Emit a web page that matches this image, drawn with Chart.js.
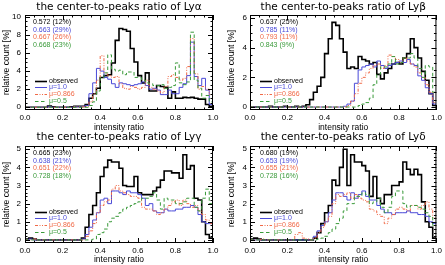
<!DOCTYPE html>
<html>
<head>
<meta charset="utf-8">
<script src="https://cdn.jsdelivr.net/npm/chart.js@4.4.1/dist/chart.umd.min.js"></script>
<style>
    html, body { margin: 0; padding: 0; background: #fff; }
    #wrap { position: relative; width: 445px; height: 265px; overflow: hidden; }
    canvas { position: absolute; }
</style>
</head>
<body>
<div id="wrap">
    <canvas id="lya" width="222" height="133" style="left:0;top:0"></canvas>
    <canvas id="lyb" width="223" height="133" style="left:222px;top:0"></canvas>
    <canvas id="lyg" width="222" height="135" style="left:0;top:130px"></canvas>
    <canvas id="lyd" width="223" height="135" style="left:222px;top:130px"></canvas>
</div>
<script>
// Histogram bins: 50 bins of width 0.02 between 0 and 1 (left edges)
const binLeft = Array.from({ length: 50 }, (_, i) => Math.round(i * 2) / 100);

const seriesLabels = ['observed', 'μ=1.0', 'μ=0.866', 'μ=0.5'];

// Ly alpha
const lyaObserved = [0,0,0,0,0,0,0.15,0.05,0,0,0,0,0.05,0.1,0.1,0.1,0.3,1.0,1.5,2.1,3.3,3.5,3.6,4.9,7.4,8.7,8.6,8.4,6.5,5.0,3.5,2.7,3.8,1.8,1.8,2.4,2.3,2.2,1.0,1.7,1.0,1.0,1.1,1.05,1.1,1.0,0.9,0.9,0.3,0.1];
const lyaMu10 = [0,0,0,0,0,0,0.05,0,0,0,0,0,0,0.05,0.05,0.1,0.2,1.5,2.7,4.3,4.0,3.3,3.1,2.6,2.2,2.7,2.6,2.5,2.4,2.5,2.6,2.8,2.4,2.0,2.1,1.9,1.4,1.4,1.9,1.5,1.5,2.2,2.6,3.5,7.2,3.4,2.4,3.2,1.9,0.3];
const lyaMu0866 = [0,0,0,0,0,0,0,0,0,0,0,0,0,0.05,0.05,0.05,0.1,0.6,1.5,3.0,5.7,3.8,3.5,3.3,3.4,2.6,2.1,2.0,2.3,2.2,2.0,2.2,3.0,2.2,2.0,1.8,1.6,2.3,3.4,3.6,3.3,3.0,3.2,4.5,7.6,3.7,2.0,2.3,2.0,1.4];
const lyaMu05 = [0,0,0,0,0,0,0,0,0,0,0,0,0,0,0,0,0,0.2,0.6,1.8,3.3,3.8,5.8,4.2,4.0,4.1,3.6,3.9,3.9,3.3,3.3,3.0,2.7,2.6,2.4,2.4,2.5,2.1,2.2,2.4,4.9,2.7,2.5,2.8,8.3,3.0,2.1,1.0,1.3,0.6];

// Ly beta
const lybObserved = [0,0,0,0,0,0.05,0,0,0,0.05,0,0,0.05,0,0.05,0.15,0.5,1.0,1.4,2.0,3.6,4.6,5.7,5.5,4.6,3.7,2.6,2.7,2.6,3.4,3.2,3.1,2.9,3.0,2.2,1.9,2.3,2.6,2.9,3.0,2.9,3.3,3.6,4.6,4.0,3.3,2.4,1.8,0.9,0.1];
const lybMu10 = [0,0,0,0,0,0,0,0,0,0,0,0,0,0,0,0,0,0,0,0,0,0,0,0,0,0.05,0.2,0.4,1.6,2.5,2.7,2.8,2.9,2.7,3.1,2.8,2.6,2.8,2.9,3.0,3.1,3.0,3.2,2.9,2.8,2.1,1.8,1.3,0.9,0.2];
const lybMu0866 = [0,0,0,0,0,0,0,0,0,0,0,0,0,0,0,0,0,0,0,0,0,0,0,0,0,0,0.1,0.4,0.9,1.6,2.0,2.3,2.6,2.8,2.9,2.6,2.8,3.5,3.4,3.2,3.0,3.3,3.1,2.9,2.7,2.3,2.0,1.5,1.0,0.3];
const lybMu05 = [0,0,0,0,0,0,0,0,0,0,0,0,0,0,0,0,0,0,0,0,0,0,0,0,0,0,0,0,0,0.1,0.2,0.3,0.6,1.5,2.2,2.7,2.7,2.9,3.4,2.9,3.0,3.3,3.3,3.6,3.3,2.6,2.0,2.8,2.7,1.0];

// Ly gamma
const lygObserved = [0.05,0.1,0.05,0,0,0,0,0,0,0,0,0,0,0,0,0.1,0.7,1.4,1.9,2.6,3.5,4.0,4.4,4.3,4.3,3.95,3.0,2.95,2.95,3.5,2.6,2.5,2.5,2.5,2.7,2.9,3.3,3.8,3.8,3.7,3.7,3.4,4.7,3.9,4.1,2.3,2.2,1.0,0.3,0.1];
const lygMu10 = [0,0.05,0,0,0,0,0,0,0,0,0,0,0,0,0,0.05,0.3,0.7,1.1,1.5,2.2,2.3,2.0,2.7,2.7,2.6,2.5,2.7,2.6,2.6,2.5,2.3,1.9,2.0,1.6,1.5,1.5,1.7,1.6,1.6,1.7,1.7,1.8,1.8,1.9,1.8,1.4,1.0,0.9,0.9];
const lygMu0866 = [0,0,0.05,0,0,0,0,0,0,0,0,0,0,0,0,0,0.2,0.5,0.9,1.5,1.9,2.1,2.2,2.8,3.0,2.7,2.6,2.5,2.4,2.4,2.3,1.8,1.7,1.7,1.6,1.4,1.5,1.7,1.9,2.1,2.2,1.9,2.2,2.0,1.8,1.9,1.6,1.4,1.1,0.9];
const lygMu05 = [0,0,0,0,0,0,0,0,0,0,0,0,0,0,0,0,0,0,0.05,0.3,0.4,0.6,1.0,1.2,1.3,1.5,1.7,1.8,1.9,2.0,2.1,2.3,2.3,2.4,2.6,2.2,1.7,2.3,2.2,2.2,2.0,2.0,2.1,2.3,2.3,1.8,1.6,2.3,2.8,2.0];

// Ly delta
const lydObserved = [0.05,0.1,0.05,0,0,0,0,0,0,0,0,0,0,0,0,0,0,0.1,0.4,0.9,1.5,1.9,3.3,3.0,4.0,5.0,3.0,4.7,4.3,4.3,4.1,3.8,2.4,3.5,2.3,2.0,2.5,2.5,3.0,3.0,3.2,4.3,3.9,3.6,3.9,3.6,2.1,1.0,0.7,0.1];
const lydMu10 = [0,0,0,0,0,0,0,0,0,0,0,0,0,0,0,0,0,0.2,0.5,0.8,1.0,1.5,2.2,2.6,2.6,2.4,2.2,2.6,2.3,2.5,2.7,2.4,2.2,2.2,1.9,1.7,1.5,1.5,1.4,1.5,1.5,1.5,1.6,1.5,1.5,1.4,1.4,1.3,1.0,0.9];
const lydMu0866 = [0,0,0,0.05,0,0,0,0,0,0,0,0,0.3,0.4,0.1,0.05,0,0.1,0.4,0.7,1.0,1.3,2.0,2.5,2.4,2.5,2.6,2.3,2.5,2.3,2.2,2.1,1.7,1.6,1.4,1.3,0.9,1.2,1.4,1.7,1.8,1.7,1.6,1.9,1.9,1.7,1.9,2.1,1.7,1.2];
const lydMu05 = [0,0,0,0,0,0,0,0,0,0,0,0,0,0,0,0,0,0,0.05,0.1,0.2,0.4,0.6,0.9,1.2,1.6,2.0,2.0,2.4,2.4,2.6,2.5,2.0,2.1,2.3,1.8,1.5,1.8,2.4,2.7,2.7,2.0,1.8,1.9,1.9,1.8,1.7,1.5,1.3,0.8];

// Mean ratio (fraction) printed in the upper left corner of each panel
const lyaNotes = ['0.572 (12%)', '0.663 (29%)', '0.667 (26%)', '0.668 (23%)'];
const lybNotes = ['0.637 (25%)', '0.785 (11%)', '0.793 (11%)', '0.843 (9%)'];
const lygNotes = ['0.665 (23%)', '0.638 (21%)', '0.651 (22%)', '0.728 (18%)'];
const lydNotes = ['0.680 (19%)', '0.653 (19%)', '0.655 (21%)', '0.728 (16%)'];

// Styles of the four curves
const lineStyles = [
    { color: '#000000', width: 1.6, dash: [] },
    { color: '#4a4ad8', width: 1, dash: [] },
    { color: '#f06a48', width: 1, dash: [3, 1.5, 1, 1.5, 1, 1.5] },
    { color: '#3a9a3a', width: 1, dash: [3.5, 2.5] }
];

const tickFont = { family: 'Liberation Sans', size: 8 };
const axisFont = { family: 'Liberation Sans', size: 8.5 };
const noteFont = '7px "Liberation Sans"';

// Box with inward ticks, legend and notes (IDL-like look)
const framePlugin = {
    id: 'frame',
    afterDatasetsDraw(chart, args, opts) {
        const { ctx, chartArea: a, scales: { x, y } } = chart;
        ctx.save();
        ctx.strokeStyle = '#000';
        ctx.lineWidth = 1;
        ctx.setLineDash([]);
        ctx.strokeRect(a.left + 0.5, a.top + 0.5, a.right - a.left - 1, a.bottom - a.top - 1);
        ctx.beginPath();
        // x ticks every 0.05, major every 0.2
        for (let k = 0; k <= 20; k++) {
            const px = Math.round(x.getPixelForValue(k * 0.05)) + 0.5;
            const len = k % 4 === 0 ? 5 : 2.5;
            ctx.moveTo(px, a.bottom); ctx.lineTo(px, a.bottom - len);
            ctx.moveTo(px, a.top); ctx.lineTo(px, a.top + len);
        }
        // y ticks
        const kMin = Math.ceil(y.min / opts.yMinor - 1e-6);
        const kMax = Math.floor(y.max / opts.yMinor + 1e-6);
        for (let k = kMin; k <= kMax; k++) {
            const v = k * opts.yMinor;
            const py = Math.round(y.getPixelForValue(v)) + 0.5;
            const r = v / opts.yStep;
            const len = Math.abs(r - Math.round(r)) < 1e-6 ? 5 : 2.5;
            ctx.moveTo(a.left, py); ctx.lineTo(a.left + len, py);
            ctx.moveTo(a.right, py); ctx.lineTo(a.right - len, py);
        }
        ctx.stroke();
        ctx.restore();
    },
    afterDraw(chart, args, opts) {
        const { ctx, chartArea: a } = chart;
        ctx.save();
        ctx.font = noteFont;
        ctx.textBaseline = 'middle';
        ctx.textAlign = 'left';
        // notes
        opts.notes.forEach((t, i) => {
            ctx.fillStyle = lineStyles[i].color;
            ctx.fillText(t, a.left + opts.noteX, a.top + 7.5 + i * 7.4);
        });
        // legend
        chart.data.datasets.forEach((ds, i) => {
            const st = lineStyles[i];
            const ly = Math.round(a.top + 65.5 + i * 6.7) + 0.5;
            ctx.strokeStyle = st.color;
            ctx.lineWidth = st.width;
            ctx.setLineDash(st.dash);
            ctx.beginPath();
            ctx.moveTo(a.left + 10, ly);
            ctx.lineTo(a.left + 22, ly);
            ctx.stroke();
            ctx.fillStyle = st.color;
            ctx.fillText(ds.label, a.left + 24, ly);
        });
        ctx.restore();
    }
};

function makeSteps(values) {
    const pts = binLeft.map((x, i) => ({ x: x, y: values[i] }));
    pts.push({ x: 1, y: values[values.length - 1] });
    return pts;
}

function makePanel(id, cfg) {
    const canvas = document.getElementById(id);
    new Chart(canvas, {
        type: 'line',
        data: {
            datasets: cfg.series.map((vals, i) => ({
                label: seriesLabels[i],
                data: makeSteps(vals),
                borderColor: lineStyles[i].color,
                borderWidth: lineStyles[i].width,
                borderDash: lineStyles[i].dash,
                stepped: true,
                pointRadius: 0,
                fill: false,
                order: 4 - i
            }))
        },
        options: {
            responsive: false,
            animation: false,
            devicePixelRatio: 1,
            layout: { padding: { left: 0, right: cfg.padRight, top: 0, bottom: 0 } },
            plugins: {
                legend: { display: false },
                tooltip: { enabled: false },
                title: {
                    display: true,
                    text: cfg.title,
                    color: '#000',
                    fullSize: false,
                    font: { family: 'DejaVu Sans', size: 10.5, weight: 'normal' },
                    padding: { top: 1, bottom: cfg.titleBottom }
                },
                frame: { notes: cfg.notes, noteX: cfg.noteX, yMinor: cfg.yMinor, yStep: cfg.yStep }
            },
            scales: {
                x: {
                    type: 'linear',
                    min: 0,
                    max: 1,
                    grid: { display: false, drawTicks: false },
                    border: { display: false },
                    ticks: {
                        stepSize: 0.2,
                        color: '#000',
                        font: tickFont,
                        padding: 3,
                        maxRotation: 0,
                        autoSkip: false,
                        callback: function(value) {
                            return Number(value).toFixed(1);
                        }
                    },
                    title: { display: true, text: 'intensity ratio', color: '#000', font: axisFont, padding: { top: 0, bottom: 0 } },
                    afterFit: function(scale) { scale.height = cfg.xAxisH; }
                },
                y: {
                    min: cfg.yMin,
                    max: cfg.yMax,
                    grid: { display: false, drawTicks: false },
                    border: { display: false },
                    ticks: {
                        stepSize: cfg.yStep,
                        includeBounds: false,
                        color: '#000',
                        font: tickFont,
                        padding: cfg.yTickPad
                    },
                    title: { display: true, text: 'relative count [%]', color: '#000', font: axisFont, padding: { top: cfg.yTitlePad, bottom: 0 } },
                    afterFit: function(scale) { scale.width = cfg.yAxisW; }
                }
            }
        },
        plugins: [framePlugin]
    });
}

makePanel('lya', {
    title: 'the center-to-peaks ratio of Lyα',
    series: [lyaObserved, lyaMu10, lyaMu0866, lyaMu05],
    notes: lyaNotes,
    yMin: -0.3, yMax: 10.2, yStep: 2, yMinor: 0.5,
    padRight: 9, yAxisW: 25, xAxisH: 23, titleBottom: 1.4,
    yTitlePad: 1.5, yTickPad: 4, noteX: 8
});

makePanel('lyb', {
    title: 'the center-to-peaks ratio of Lyβ',
    series: [lybObserved, lybMu10, lybMu0866, lybMu05],
    notes: lybNotes,
    yMin: -0.2, yMax: 6.2, yStep: 2, yMinor: 0.5,
    padRight: 7, yAxisW: 28, xAxisH: 23, titleBottom: 1.4,
    yTitlePad: 4.6, yTickPad: 3, noteX: 10
});

makePanel('lyg', {
    title: 'the center-to-peaks ratio of Lyγ',
    series: [lygObserved, lygMu10, lygMu0866, lygMu05],
    notes: lygNotes,
    yMin: -0.17, yMax: 5.18, yStep: 1, yMinor: 0.2,
    padRight: 9, yAxisW: 25, xAxisH: 22, titleBottom: 2.4,
    yTitlePad: 1.5, yTickPad: 4, noteX: 8
});

makePanel('lyd', {
    title: 'the center-to-peaks ratio of Lyδ',
    series: [lydObserved, lydMu10, lydMu0866, lydMu05],
    notes: lydNotes,
    yMin: -0.17, yMax: 5.18, yStep: 1, yMinor: 0.2,
    padRight: 7, yAxisW: 28, xAxisH: 22, titleBottom: 2.4,
    yTitlePad: 4.6, yTickPad: 3, noteX: 10
});
</script>
</body>
</html>
